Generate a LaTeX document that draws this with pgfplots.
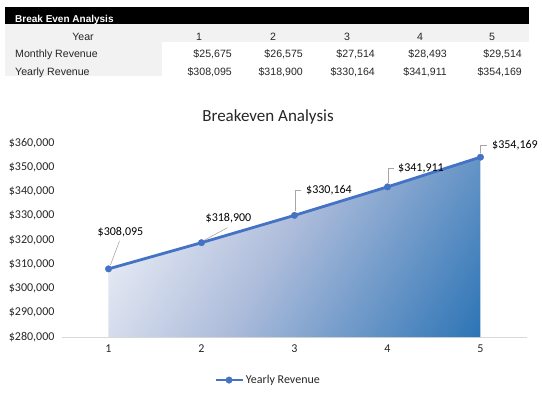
\documentclass[border=0pt]{standalone}
\usepackage{fontspec}
\setmainfont{Carlito}
\newfontfamily\arial{Liberation Sans}
\usepackage{pgfplots}
\pgfplotsset{compat=1.18}
\definecolor{lineblue}{HTML}{4472C4}
\definecolor{darkblue}{HTML}{2E75B6}
\definecolor{midblue}{HTML}{ADBCDB}
\definecolor{lightblue}{HTML}{F5F6FA}
\definecolor{tgray}{HTML}{F2F2F2}
\definecolor{ttext}{HTML}{262626}
\definecolor{lead}{HTML}{A6A6A6}
\pgfdeclareverticalshading{areashade}{100bp}{color(0bp)=(darkblue); color(16bp)=(darkblue); color(52bp)=(midblue); color(82bp)=(lightblue); color(100bp)=(lightblue)}
\begin{document}
\begin{tikzpicture}
\path[use as bounding box] (0,0) rectangle (542pt,-392pt);
% ---- table ----
\fill[black] (5pt,-7pt) rectangle (529pt,-24pt);
\fill[tgray] (5pt,-24pt) rectangle (529pt,-42pt);
\fill[tgray] (5pt,-42pt) rectangle (162pt,-76pt);
\tikzset{tt/.style={inner sep=0pt, text=ttext, font=\arial\fontsize{10.6}{12}\selectfont}}
\node[anchor=base west, inner sep=0pt, text=white, font=\arial\fontsize{10}{12}\selectfont\bfseries] at (15pt,-22.5pt) {Break Even Analysis};
\node[tt, anchor=base] at (83pt,-40pt) {Year};
\node[tt, anchor=base] at (199pt,-40pt) {1};
\node[tt, anchor=base] at (273pt,-40pt) {2};
\node[tt, anchor=base] at (347pt,-40pt) {3};
\node[tt, anchor=base] at (420pt,-40pt) {4};
\node[tt, anchor=base] at (492pt,-40pt) {5};
\node[tt, anchor=base west] at (15pt,-57pt) {Monthly Revenue};
\node[tt, anchor=base west] at (15pt,-75pt) {Yearly Revenue};
\node[tt, anchor=base east] at (232pt,-57pt) {\$25,675};
\node[tt, anchor=base east] at (303pt,-57pt) {\$26,575};
\node[tt, anchor=base east] at (375pt,-57pt) {\$27,514};
\node[tt, anchor=base east] at (447pt,-57pt) {\$28,493};
\node[tt, anchor=base east] at (522pt,-57pt) {\$29,514};
\node[tt, anchor=base east] at (232pt,-75pt) {\$308,095};
\node[tt, anchor=base east] at (303pt,-75pt) {\$318,900};
\node[tt, anchor=base east] at (375pt,-75pt) {\$330,164};
\node[tt, anchor=base east] at (447pt,-75pt) {\$341,911};
\node[tt, anchor=base east] at (522pt,-75pt) {\$354,169};
% ---- title ----
\node[font=\fontsize{17}{20}\selectfont, text=ttext, inner sep=0pt] at (268pt,-117pt) {Breakeven Analysis};
% ---- chart ----
\begin{axis}[
  at={(62pt,-337pt)}, anchor=south west,
  scale only axis, width=465pt, height=194pt,
  xmin=0.5, xmax=5.5, ymin=280000, ymax=360000,
  clip=false,
  scaled y ticks=false, scaled x ticks=false,
  xtick={1,2,3,4,5}, xticklabels={1,2,3,4,5},
  ytick={280000,290000,300000,310000,320000,330000,340000,350000,360000},
  yticklabels={{\$280,000},{\$290,000},{\$300,000},{\$310,000},{\$320,000},{\$330,000},{\$340,000},{\$350,000},{\$360,000}},
  ticklabel style={font=\fontsize{12}{14}\selectfont, text=ttext},
  yticklabel style={xshift=-4pt},
  xticklabel style={yshift=-4pt},
  major tick length=0pt,
  axis lines=left,
  axis line style={-},
  y axis line style={draw=none},
  x axis line style={draw=black!15, line width=0.8pt},
  legend style={draw=none, fill=none, at={(axis description cs:0.443,-0.222)}, anchor=center,
    font=\fontsize{12}{14}\selectfont, text=ttext, inner sep=1pt},
  legend image code/.code={\draw[mark repeat=2, mark phase=2, #1] plot coordinates {(0pt,0pt) (13.5pt,0pt) (27pt,0pt)};},
]
\addplot[draw=none, forget plot, shade, shading=areashade, shading angle=58]
  coordinates {(1,280000) (1,308095) (2,318900) (3,330164) (4,341911) (5,354169) (5,280000)} -- cycle;
\addplot[lineblue, line width=2.8pt, mark=*, mark size=3.3pt, mark options={fill=lineblue, draw=lineblue, line width=0.3pt}]
  coordinates {(1,308095) (2,318900) (3,330164) (4,341911) (5,354169)};
\addlegendentry{Yearly Revenue}
% data labels with leader lines
\tikzset{dl/.style={font=\fontsize{12}{14}\selectfont, text=black, inner sep=0pt}}
\draw[lead, line width=0.6pt] ([xshift=2pt,yshift=4pt]axis cs:1,308095) -- ([xshift=11pt,yshift=28pt]axis cs:1,308095);
\node[dl] at ([xshift=12pt,yshift=37pt]axis cs:1,308095) {\$308,095};
\draw[lead, line width=0.6pt] ([xshift=2pt,yshift=2pt]axis cs:2,318900) -- ([xshift=26pt,yshift=15pt]axis cs:2,318900);
\node[dl] at ([xshift=27pt,yshift=25pt]axis cs:2,318900) {\$318,900};
\draw[lead, line width=0.6pt] ([xshift=0.5pt,yshift=4pt]axis cs:3,330164) -- ([xshift=0.5pt,yshift=25pt]axis cs:3,330164) -- ([xshift=6.5pt,yshift=25pt]axis cs:3,330164);
\node[dl] at ([xshift=34.5pt,yshift=25pt]axis cs:3,330164) {\$330,164};
\draw[lead, line width=0.6pt] ([xshift=0.5pt,yshift=4pt]axis cs:4,341911) -- ([xshift=0.5pt,yshift=19pt]axis cs:4,341911) -- ([xshift=6.5pt,yshift=19pt]axis cs:4,341911);
\node[dl] at ([xshift=33.5pt,yshift=19pt]axis cs:4,341911) {\$341,911};
\draw[lead, line width=0.6pt] ([xshift=0pt,yshift=4pt]axis cs:5,354169) -- ([xshift=0pt,yshift=12pt]axis cs:5,354169) -- ([xshift=7pt,yshift=12pt]axis cs:5,354169);
\node[dl] at ([xshift=34.5pt,yshift=12pt]axis cs:5,354169) {\$354,169};
\end{axis}
\end{tikzpicture}
\end{document}
